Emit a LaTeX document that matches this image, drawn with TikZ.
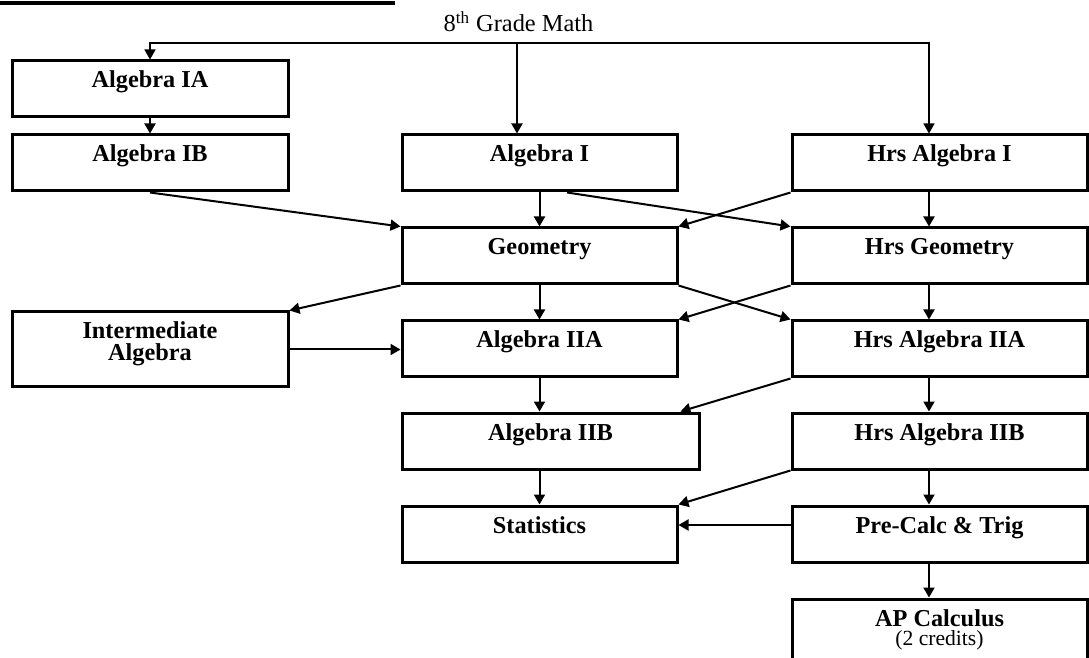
\documentclass[tikz,border=0pt]{standalone}
\usepackage{fontspec}
\setmainfont{Liberation Serif}
\usetikzlibrary{arrows.meta,positioning}

\begin{document}
\begin{tikzpicture}[x=0.5pt, y=-0.5pt,
    course/.style={draw, line width=1.5pt, anchor=north west, inner sep=0pt,
        text width=137.5pt, align=flush center, text height=13.5pt, text depth=14.5pt,
        font=\fontsize{12.15}{11}\selectfont\bfseries},
    flow/.style={-{Triangle[length=5pt,width=5.5pt]}, line width=1pt}]

    \useasboundingbox (0,0) rectangle (1089,658);

    \draw[line width=2pt] (0,3) -- (395,3);

    % left column
    \node[course, text width=138pt] (ia) at (10.5,59.5) {Algebra IA};
    \node[course, text width=138pt] (aib) at (10.5,133.5) {Algebra IB};
    \node[course, text width=138pt, text depth=24pt] (ima) at (10.5,310.5) {Intermediate\\Algebra};

    % middle column
    \node[course] (ai) at (400.5,133.5) {Algebra I};
    \node[course] (geo) at (400.5,226.5) {Geometry};
    \node[course] (a2a) at (400.5,319.5) {Algebra IIA};
    \node[course, text width=148.5pt] (a2b) at (400.5,411.5) {Algebra IIB};
    \node[course] (stat) at (400.5,504.5) {Statistics};

    % honors column
    \node[course, text width=147.5pt] (hai) at (790.5,133.5) {Hrs Algebra I};
    \node[course, text width=147.5pt] (hgeo) at (790.5,226.5) {Hrs Geometry};
    \node[course, text width=147.5pt] (ha2a) at (790.5,319.5) {Hrs Algebra IIA};
    \node[course, text width=147.5pt] (hb2b) at (790.5,411.5) {Hrs Algebra IIB};
    \node[course, text width=147.5pt] (pct) at (790.5,504.5) {Pre-Calc \& Trig};
    \node[course, text width=147.5pt, text depth=30pt] (apc) at (790.5,597.5)
        {AP Calculus\\[-1.5pt]{\fontsize{10.8}{11}\selectfont\mdseries (2 credits)}};

    % start
    \node[anchor=base, font=\fontsize{12.2}{14}\selectfont] (grade) at (518.5,32) {8\textsuperscript{th} Grade Math};
    \coordinate (hub) at (517,43);
    \draw[flow, line width=0.7pt] (hub) -| (ia.north);
    \draw[flow] (hub) -- (hub |- ai.north);
    \draw[flow, line width=0.7pt] (hub) -| ([xshift=-5.25pt]hai.north);

    % straight down
    \draw[flow] (ia.south) -- (aib.north);
    \draw[flow] (ai.south) -- (geo.north);
    \draw[flow] (geo.south) -- (a2a.north);
    \draw[flow] (a2a.south) -- (a2a.south |- a2b.north);
    \draw[flow] (stat.north |- a2b.south) -- (stat.north);
    \foreach \s/\d in {hai/hgeo, hgeo/ha2a, ha2a/hb2b, hb2b/pct, pct/apc}{
        \draw[flow] ([xshift=-5.25pt]\s.south) -- ([xshift=-5.25pt]\d.north);
    }

    % across
    \foreach \s/\d in {aib.south/geo.north west, hai.south west/geo.north east,
        geo.south west/ima.north east, geo.south east/ha2a.north west,
        hgeo.south west/a2a.north east, hb2b.south west/stat.north east}{
        \draw[flow] (\s) -- (\d);
    }
    \draw[flow] ([xshift=13.75pt]ai.south) -- (hgeo.north west);
    \draw[flow] (ha2a.south west) -- ([xshift=-10pt]a2b.north east);
    \draw[flow] (ima.east) -- (ima.east -| a2a.west);
    \draw[flow] ([yshift=4.5pt]pct.west) -- ([yshift=4.5pt]stat.east);

\end{tikzpicture}
\end{document}
